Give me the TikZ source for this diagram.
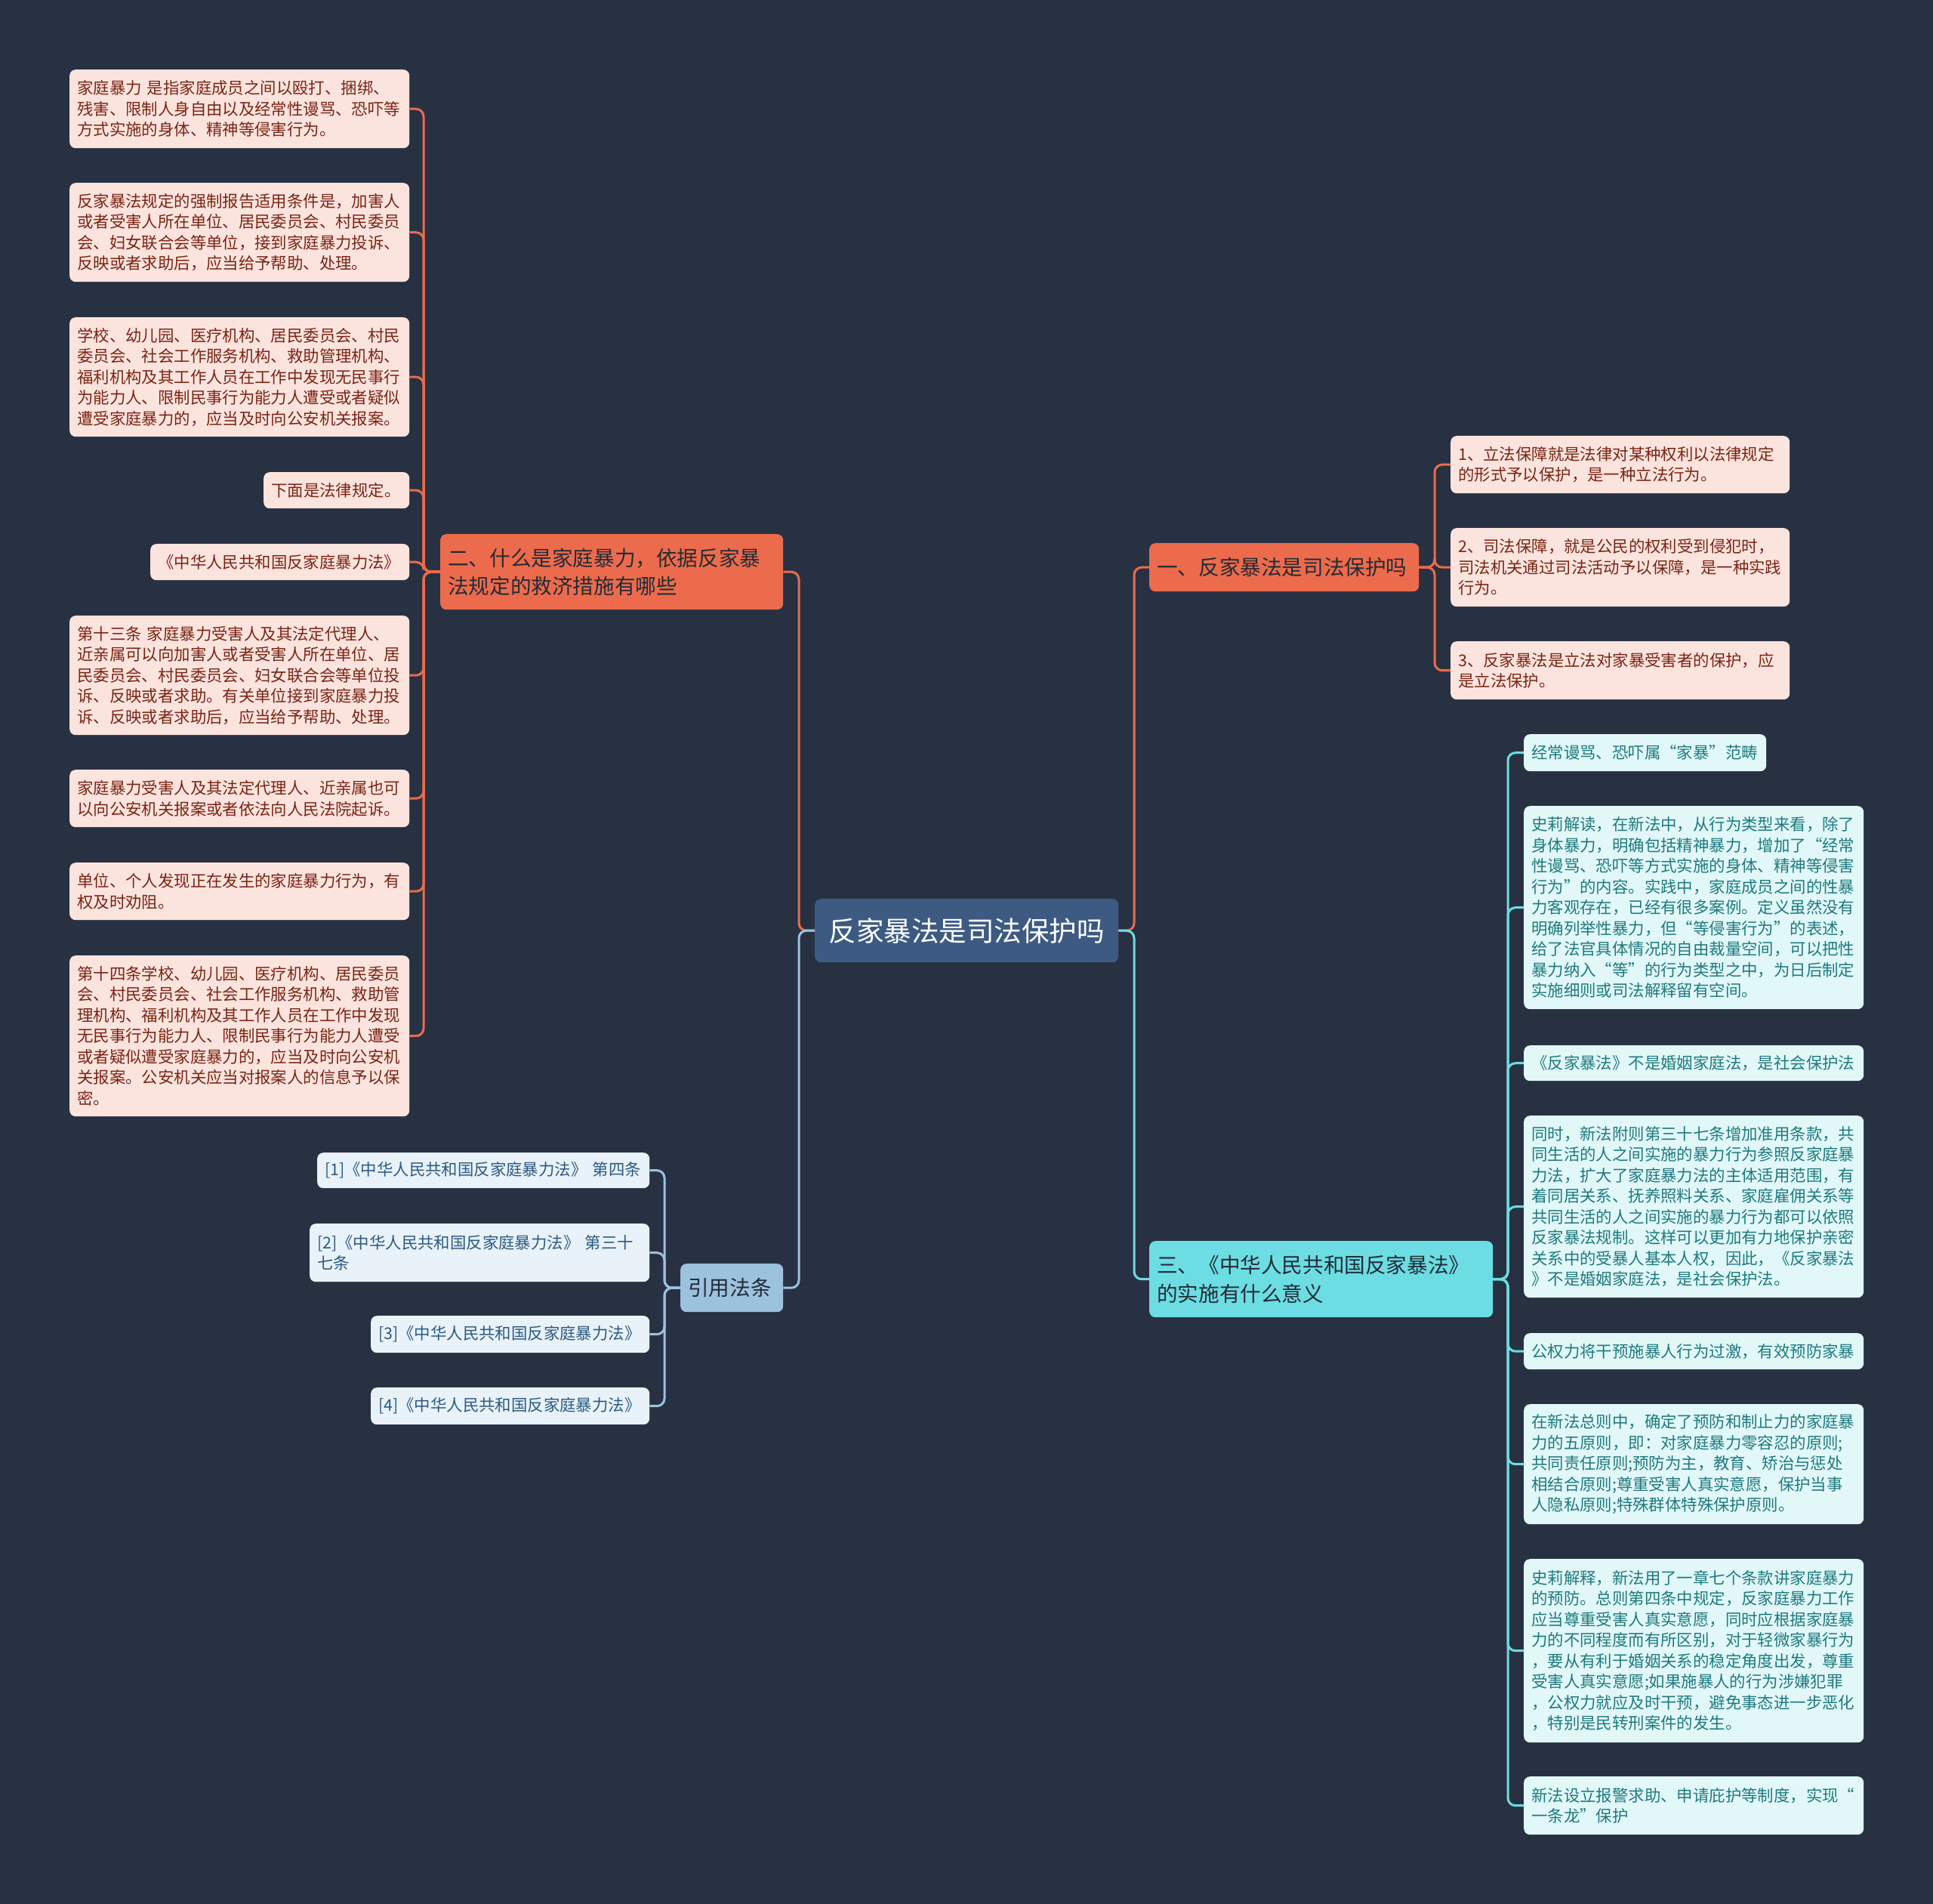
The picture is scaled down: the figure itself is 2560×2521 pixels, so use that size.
\documentclass[tikz,border=0pt]{standalone}
\usepackage{fontspec}
\newfontfamily\cjk{Noto Sans CJK SC}
\newcommand\leaffont{\cjk\fontsize{21.4pt}{27.5pt}\selectfont}
\newcommand\branchfont{\cjk\fontsize{27.6pt}{37.5pt}\selectfont}
\newcommand\rootfont{\cjk\fontsize{36.5pt}{44pt}\selectfont}
\definecolor{bgc}{HTML}{283142}
\definecolor{rootc}{HTML}{3D5B82}
\definecolor{orangec}{HTML}{EC6B4C}
\definecolor{pinkfill}{HTML}{FCE4DE}
\definecolor{pinktext}{HTML}{7A2414}
\definecolor{bluebr}{HTML}{9CC2DE}
\definecolor{bluefill}{HTML}{E8F2F8}
\definecolor{bluetext}{HTML}{2D5A82}
\definecolor{cyanbr}{HTML}{6CDDE3}
\definecolor{cyanfill}{HTML}{E1F7F8}
\definecolor{cyantext}{HTML}{1F7A7E}
\definecolor{darktext}{HTML}{222B36}
\tikzset{
  base/.style={rounded corners=8pt, inner xsep=10pt, inner ysep=0pt, align=left, anchor=north west, font=\leaffont},
  pleaf/.style={base, fill=pinkfill, text=pinktext},
  bleaf/.style={base, fill=bluefill, text=bluetext},
  cleaf/.style={base, fill=cyanfill, text=cyantext},
  obranch/.style={base, fill=orangec, text=darktext, font=\branchfont},
  bbranch/.style={base, fill=bluebr, text=darktext, font=\branchfont},
  cbranch/.style={base, fill=cyanbr, text=darktext, font=\branchfont},
  rootbox/.style={base, fill=rootc, text=white, font=\rootfont, align=center},
  conn/.style={line width=3pt, rounded corners=10pt},
  oconn/.style={conn, draw=orangec},
  bconn/.style={conn, draw=bluebr},
  cconn/.style={conn, draw=cyanbr}
}
\begin{document}
\begin{tikzpicture}[x=1pt,y=-1pt]
\fill[bgc] (0,0) rectangle (2560,2521);
\useasboundingbox (0,0) rectangle (2560,2521);

% root
\node[rootbox, text width=382pt, minimum height=84pt] (root) at (1079,1190) {反家暴法是司法保护吗};

% branches
\node[obranch, text width=337pt, minimum height=64pt] (b1) at (1522,719) {一、反家暴法是司法保护吗};
\node[obranch, text width=434pt, minimum height=100pt] (b2) at (583,707) {二、什么是家庭暴力，依据反家暴\\法规定的救济措施有哪些};
\node[bbranch, text width=116pt, minimum height=64pt] (b3) at (901,1673) {引用法条};
\node[cbranch, text width=435pt, minimum height=101pt] (b4) at (1522,1643) {三、《中华人民共和国反家暴法》\\的实施有什么意义};

% branch 1 leaves
\node[pleaf, text width=429pt, minimum height=76pt] (c1) at (1921,577) {1、立法保障就是法律对某种权利以法律规定\\的形式予以保护，是一种立法行为。};
\node[pleaf, text width=429pt, minimum height=104pt] (c2) at (1921,699) {2、司法保障，就是公民的权利受到侵犯时，\\司法机关通过司法活动予以保障，是一种实践\\行为。};
\node[pleaf, text width=429pt, minimum height=77pt] (c3) at (1921,849) {3、反家暴法是立法对家暴受害者的保护，应\\是立法保护。};

% branch 2 leaves
\node[pleaf, text width=430pt, minimum height=104pt] (l1) at (92,92) {家庭暴力 是指家庭成员之间以殴打、捆绑、\\残害、限制人身自由以及经常性谩骂、恐吓等\\方式实施的身体、精神等侵害行为。};
\node[pleaf, text width=430pt, minimum height=131pt] (l2) at (92,242) {反家暴法规定的强制报告适用条件是，加害人\\或者受害人所在单位、居民委员会、村民委员\\会、妇女联合会等单位，接到家庭暴力投诉、\\反映或者求助后，应当给予帮助、处理。};
\node[pleaf, text width=430pt, minimum height=158pt] (l3) at (92,420) {学校、幼儿园、医疗机构、居民委员会、村民\\委员会、社会工作服务机构、救助管理机构、\\福利机构及其工作人员在工作中发现无民事行\\为能力人、限制民事行为能力人遭受或者疑似\\遭受家庭暴力的，应当及时向公安机关报案。};
\node[pleaf, text width=173pt, minimum height=48pt] (l4) at (349,625) {下面是法律规定。};
\node[pleaf, text width=323pt, minimum height=48pt] (l5) at (199,720) {《中华人民共和国反家庭暴力法》};
\node[pleaf, text width=430pt, minimum height=158pt] (l6) at (92,815) {第十三条 家庭暴力受害人及其法定代理人、\\近亲属可以向加害人或者受害人所在单位、居\\民委员会、村民委员会、妇女联合会等单位投\\诉、反映或者求助。有关单位接到家庭暴力投\\诉、反映或者求助后，应当给予帮助、处理。};
\node[pleaf, text width=430pt, minimum height=76pt] (l7) at (92,1019) {家庭暴力受害人及其法定代理人、近亲属也可\\以向公安机关报案或者依法向人民法院起诉。};
\node[pleaf, text width=430pt, minimum height=76pt] (l8) at (92,1142) {单位、个人发现正在发生的家庭暴力行为，有\\权及时劝阻。};
\node[pleaf, text width=430pt, minimum height=213pt] (l9) at (92,1265) {第十四条学校、幼儿园、医疗机构、居民委员\\会、村民委员会、社会工作服务机构、救助管\\理机构、福利机构及其工作人员在工作中发现\\无民事行为能力人、限制民事行为能力人遭受\\或者疑似遭受家庭暴力的，应当及时向公安机\\关报案。公安机关应当对报案人的信息予以保\\密。};

% branch 3 leaves
\node[bleaf, text width=420pt, minimum height=47pt] (r1) at (420,1526) {[1]《中华人民共和国反家庭暴力法》 第四条};
\node[bleaf, text width=430pt, minimum height=77pt] (r2) at (410,1620) {[2]《中华人民共和国反家庭暴力法》 第三十\\七条};
\node[bleaf, text width=349pt, minimum height=49pt] (r3) at (491,1742) {[3]《中华人民共和国反家庭暴力法》};
\node[bleaf, text width=349pt, minimum height=49pt] (r4) at (491,1837) {[4]《中华人民共和国反家庭暴力法》};

% branch 4 leaves
\node[cleaf, text width=301pt, minimum height=49pt] (t1) at (2018,972) {经常谩骂、恐吓属“家暴”范畴};
\node[cleaf, text width=430pt, minimum height=269pt] (t2) at (2018,1067) {史莉解读，在新法中，从行为类型来看，除了\\身体暴力，明确包括精神暴力，增加了“经常\\性谩骂、恐吓等方式实施的身体、精神等侵害\\行为”的内容。实践中，家庭成员之间的性暴\\力客观存在，已经有很多案例。定义虽然没有\\明确列举性暴力，但“等侵害行为”的表述，\\给了法官具体情况的自由裁量空间，可以把性\\暴力纳入“等”的行为类型之中，为日后制定\\实施细则或司法解释留有空间。};
\node[cleaf, text width=430pt, minimum height=47pt] (t3) at (2018,1384) {《反家暴法》不是婚姻家庭法，是社会保护法};
\node[cleaf, text width=430pt, minimum height=241pt] (t4) at (2018,1477) {同时，新法附则第三十七条增加准用条款，共\\同生活的人之间实施的暴力行为参照反家庭暴\\力法，扩大了家庭暴力法的主体适用范围，有\\着同居关系、抚养照料关系、家庭雇佣关系等\\共同生活的人之间实施的暴力行为都可以依照\\反家暴法规制。这样可以更加有力地保护亲密\\关系中的受暴人基本人权，因此，《反家暴法\\》不是婚姻家庭法，是社会保护法。};
\node[cleaf, text width=430pt, minimum height=48pt] (t5) at (2018,1765) {公权力将干预施暴人行为过激，有效预防家暴};
\node[cleaf, text width=430pt, minimum height=159pt] (t6) at (2018,1859) {在新法总则中，确定了预防和制止力的家庭暴\\力的五原则，即：对家庭暴力零容忍的原则;\\共同责任原则;预防为主，教育、矫治与惩处\\相结合原则;尊重受害人真实意愿，保护当事\\人隐私原则;特殊群体特殊保护原则。};
\node[cleaf, text width=430pt, minimum height=243pt] (t7) at (2018,2064) {史莉解释，新法用了一章七个条款讲家庭暴力\\的预防。总则第四条中规定，反家庭暴力工作\\应当尊重受害人真实意愿，同时应根据家庭暴\\力的不同程度而有所区别，对于轻微家暴行为\\，要从有利于婚姻关系的稳定角度出发，尊重\\受害人真实意愿;如果施暴人的行为涉嫌犯罪\\，公权力就应及时干预，避免事态进一步恶化\\，特别是民转刑案件的发生。};
\node[cleaf, text width=430pt, minimum height=77pt] (t8) at (2018,2352) {新法设立报警求助、申请庇护等制度，实现“\\一条龙”保护};

% spine coordinates
\coordinate (sL) at (1058,0);
\coordinate (sR) at (1502,0);
\coordinate (s1) at (1900,0);
\coordinate (s2) at (561,0);
\coordinate (s3) at (880,0);
\coordinate (s4) at (1997,0);

% root connectors
\draw[oconn] (root.west) -- (root.west -| sL) |- (b2.east);
\draw[bconn] (root.west) -- (root.west -| sL) |- (b3.east);
\draw[oconn] (root.east) -- (root.east -| sR) |- (b1.west);
\draw[cconn] (root.east) -- (root.east -| sR) |- (b4.west);

% branch 1
\foreach \n in {c1,c2,c3}
  \draw[oconn] (b1.east) -- (b1.east -| s1) |- (\n.west);
% branch 2
\foreach \n in {l1,l2,l3,l4,l5,l6,l7,l8,l9}
  \draw[oconn] (b2.west) -- (b2.west -| s2) |- (\n.east);
% branch 3
\foreach \n in {r1,r2,r3,r4}
  \draw[bconn] (b3.west) -- (b3.west -| s3) |- (\n.east);
% branch 4
\foreach \n in {t1,t2,t3,t4,t5,t6,t7,t8}
  \draw[cconn] (b4.east) -- (b4.east -| s4) |- (\n.west);
\end{tikzpicture}
\end{document}
